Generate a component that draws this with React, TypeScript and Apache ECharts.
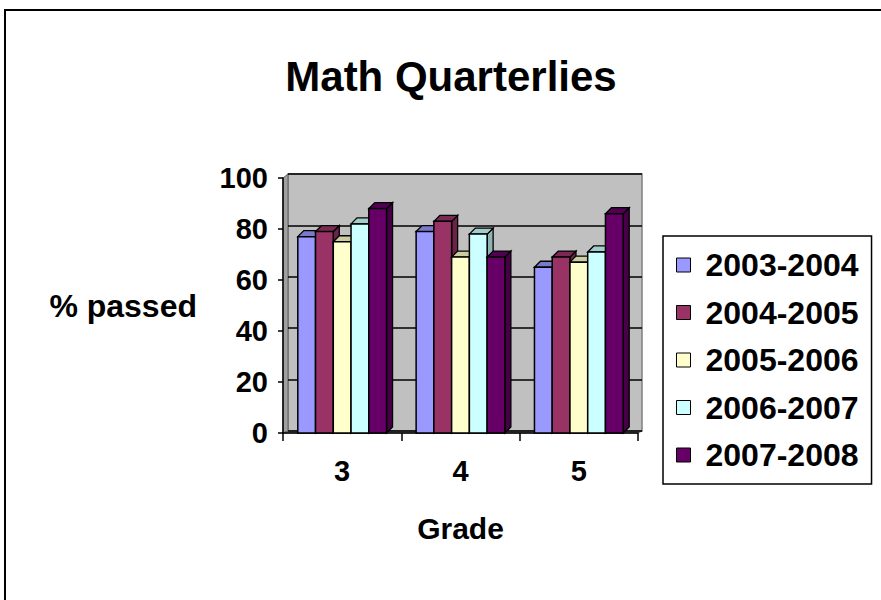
import React, { useEffect, useRef } from "react";
import * as echarts from "echarts";

const grades = ["3", "4", "5"];
const seriesNames = ["2003-2004", "2004-2005", "2005-2006", "2006-2007", "2007-2008"];
const v2003 = [77, 79, 65];
const v2004 = [79, 83, 69];
const v2005 = [75, 69, 67];
const v2006 = [82, 78, 71];
const v2007 = [88, 69, 86];
const yTicks = [0, 20, 40, 60, 80, 100];

const seriesValues = [v2003, v2004, v2005, v2006, v2007];
const frontColors = ["#9999ff", "#993366", "#ffffcc", "#ccffff", "#660066"];
const sideColors = ["#6b6bb3", "#6b2447", "#b3b38f", "#8fb3b3", "#470047"];
const topColors = ["#7a7acc", "#7a2952", "#cccca3", "#a3cccc", "#520052"];

const FONT = '"Liberation Sans", Arial, sans-serif';

export default function App() {
  const ref = useRef<HTMLDivElement>(null);
  useEffect(() => {
    if (!ref.current) return;
    const chart = echarts.init(ref.current, undefined, { renderer: "svg" });
    const n = seriesNames.length;
    const makeRender = (si: number) => (params: any, api: any) => {
      const cat = api.value(0);
      const val = api.value(1);
      const base = api.coord([cat, 0]);
      const top = api.coord([cat, val]);
      const catW = api.size([1, 0])[0];
      const groupW = catW * 0.75;
      const bw = groupW / n;
      const x0 = base[0] - groupW / 2 + si * bw;
      const x1 = x0 + bw;
      const y0 = base[1];
      const y1 = top[1];
      const d = 6;
      return {
        type: "group",
        children: [
          {
            type: "polygon",
            shape: { points: [[x1, y0], [x1 + d, y0 - d], [x1 + d, y1 - d], [x1, y1]] },
            style: { fill: sideColors[si], stroke: "#000", lineWidth: 1.3 },
          },
          {
            type: "polygon",
            shape: { points: [[x0, y1], [x0 + d, y1 - d], [x1 + d, y1 - d], [x1, y1]] },
            style: { fill: topColors[si], stroke: "#000", lineWidth: 1.3 },
          },
          {
            type: "rect",
            shape: { x: x0, y: y1, width: bw, height: y0 - y1 },
            style: { fill: frontColors[si], stroke: "#000", lineWidth: 1.5 },
          },
        ],
      };
    };

    const option: any = {
      animation: false,
      backgroundColor: "#ffffff",
      textStyle: { fontFamily: FONT },
      title: {
        text: "Math Quarterlies",
        left: 446,
        textAlign: "center",
        top: 50,
        textStyle: { fontFamily: FONT, fontSize: 42, fontWeight: "bold", color: "#000" },
      },
      legend: {
        orient: "vertical",
        left: 663,
        top: 236,
        data: seriesNames,
        icon: "rect",
        itemWidth: 14,
        itemHeight: 14,
        itemGap: 15.5,
        padding: [13, 13, 13, 13],
        borderColor: "#000",
        borderWidth: 1.5,
        backgroundColor: "#fff",
        itemStyle: { borderColor: "#000", borderWidth: 1 },
        textStyle: {
          fontFamily: FONT,
          fontSize: 32,
          fontWeight: "bold",
          color: "#000",
          lineHeight: 30,
          padding: [0, 0, 0, 10],
        },
      },
      grid: [
        { left: 288, top: 174, width: 354, height: 257, show: true, backgroundColor: "#c0c0c0", borderColor: "#808080", borderWidth: 1.5 },
        { left: 283, top: 178, width: 355, height: 255 },
      ],
      xAxis: [
        { type: "category", gridIndex: 0, data: grades, show: false },
        {
          type: "category",
          gridIndex: 1,
          data: grades,
          name: "Grade",
          nameLocation: "middle",
          nameGap: 80,
          nameTextStyle: { fontFamily: FONT, fontSize: 30, fontWeight: "bold", color: "#000" },
          axisLine: { lineStyle: { color: "#000", width: 1.5 } },
          axisTick: { show: true, length: 8, lineStyle: { color: "#000", width: 1.5 } },
          axisLabel: { margin: 23, fontFamily: FONT, fontSize: 29, fontWeight: "bold", color: "#000" },
          splitLine: { show: false },
        },
      ],
      yAxis: [
        {
          type: "value",
          gridIndex: 0,
          min: 0,
          max: 100,
          interval: 20,
          axisLine: { show: false },
          axisTick: { show: false },
          axisLabel: { show: false },
          splitLine: { show: true, lineStyle: { color: "#000", width: 1.5 } },
        },
        {
          type: "value",
          gridIndex: 1,
          min: yTicks[0],
          max: yTicks[yTicks.length - 1],
          interval: 20,
          name: "% passed",
          nameLocation: "middle",
          nameRotate: 0,
          nameGap: 86,
          nameTextStyle: { fontFamily: FONT, fontSize: 32, fontWeight: "bold", color: "#000" },
          axisLine: { show: true, lineStyle: { color: "#000", width: 1.5 } },
          axisTick: { show: true, length: 5, lineStyle: { color: "#000", width: 1.5 } },
          axisLabel: { margin: 15, fontFamily: FONT, fontSize: 29, fontWeight: "bold", color: "#000" },
          splitLine: { show: false },
        },
      ],
      graphic: [
        {
          type: "rect",
          shape: { x: 5, y: 10, width: 900, height: 620 },
          style: { fill: "none", stroke: "#000", lineWidth: 2 },
          silent: true,
          z: -1,
        },
        {
          type: "polygon",
          shape: { points: [[283, 178], [288, 174], [288, 431], [283, 433]] },
          style: { fill: "#a0a0a0", stroke: "#606060", lineWidth: 1 },
          silent: true,
          z: 0,
        },
        {
          type: "polygon",
          shape: { points: [[283, 433], [288, 431], [642, 431], [638, 433]] },
          style: { fill: "#a0a0a0", stroke: "#606060", lineWidth: 1 },
          silent: true,
          z: 0,
        },
      ],
      series: seriesNames.map((name, si) => ({
        name,
        type: "custom",
        xAxisIndex: 1,
        yAxisIndex: 1,
        clip: false,
        z: 3,
        itemStyle: { color: frontColors[si] },
        encode: { x: 0, y: 1 },
        data: seriesValues[si].map((v, ci) => [ci, v]),
        renderItem: makeRender(si),
      })),
    };
    chart.setOption(option);
    return () => chart.dispose();
  }, []);
  return (
    <div
      ref={ref}
      style={{ position: "fixed", left: 0, top: 0, width: 881, height: 600, background: "#fff" }}
    />
  );
}
